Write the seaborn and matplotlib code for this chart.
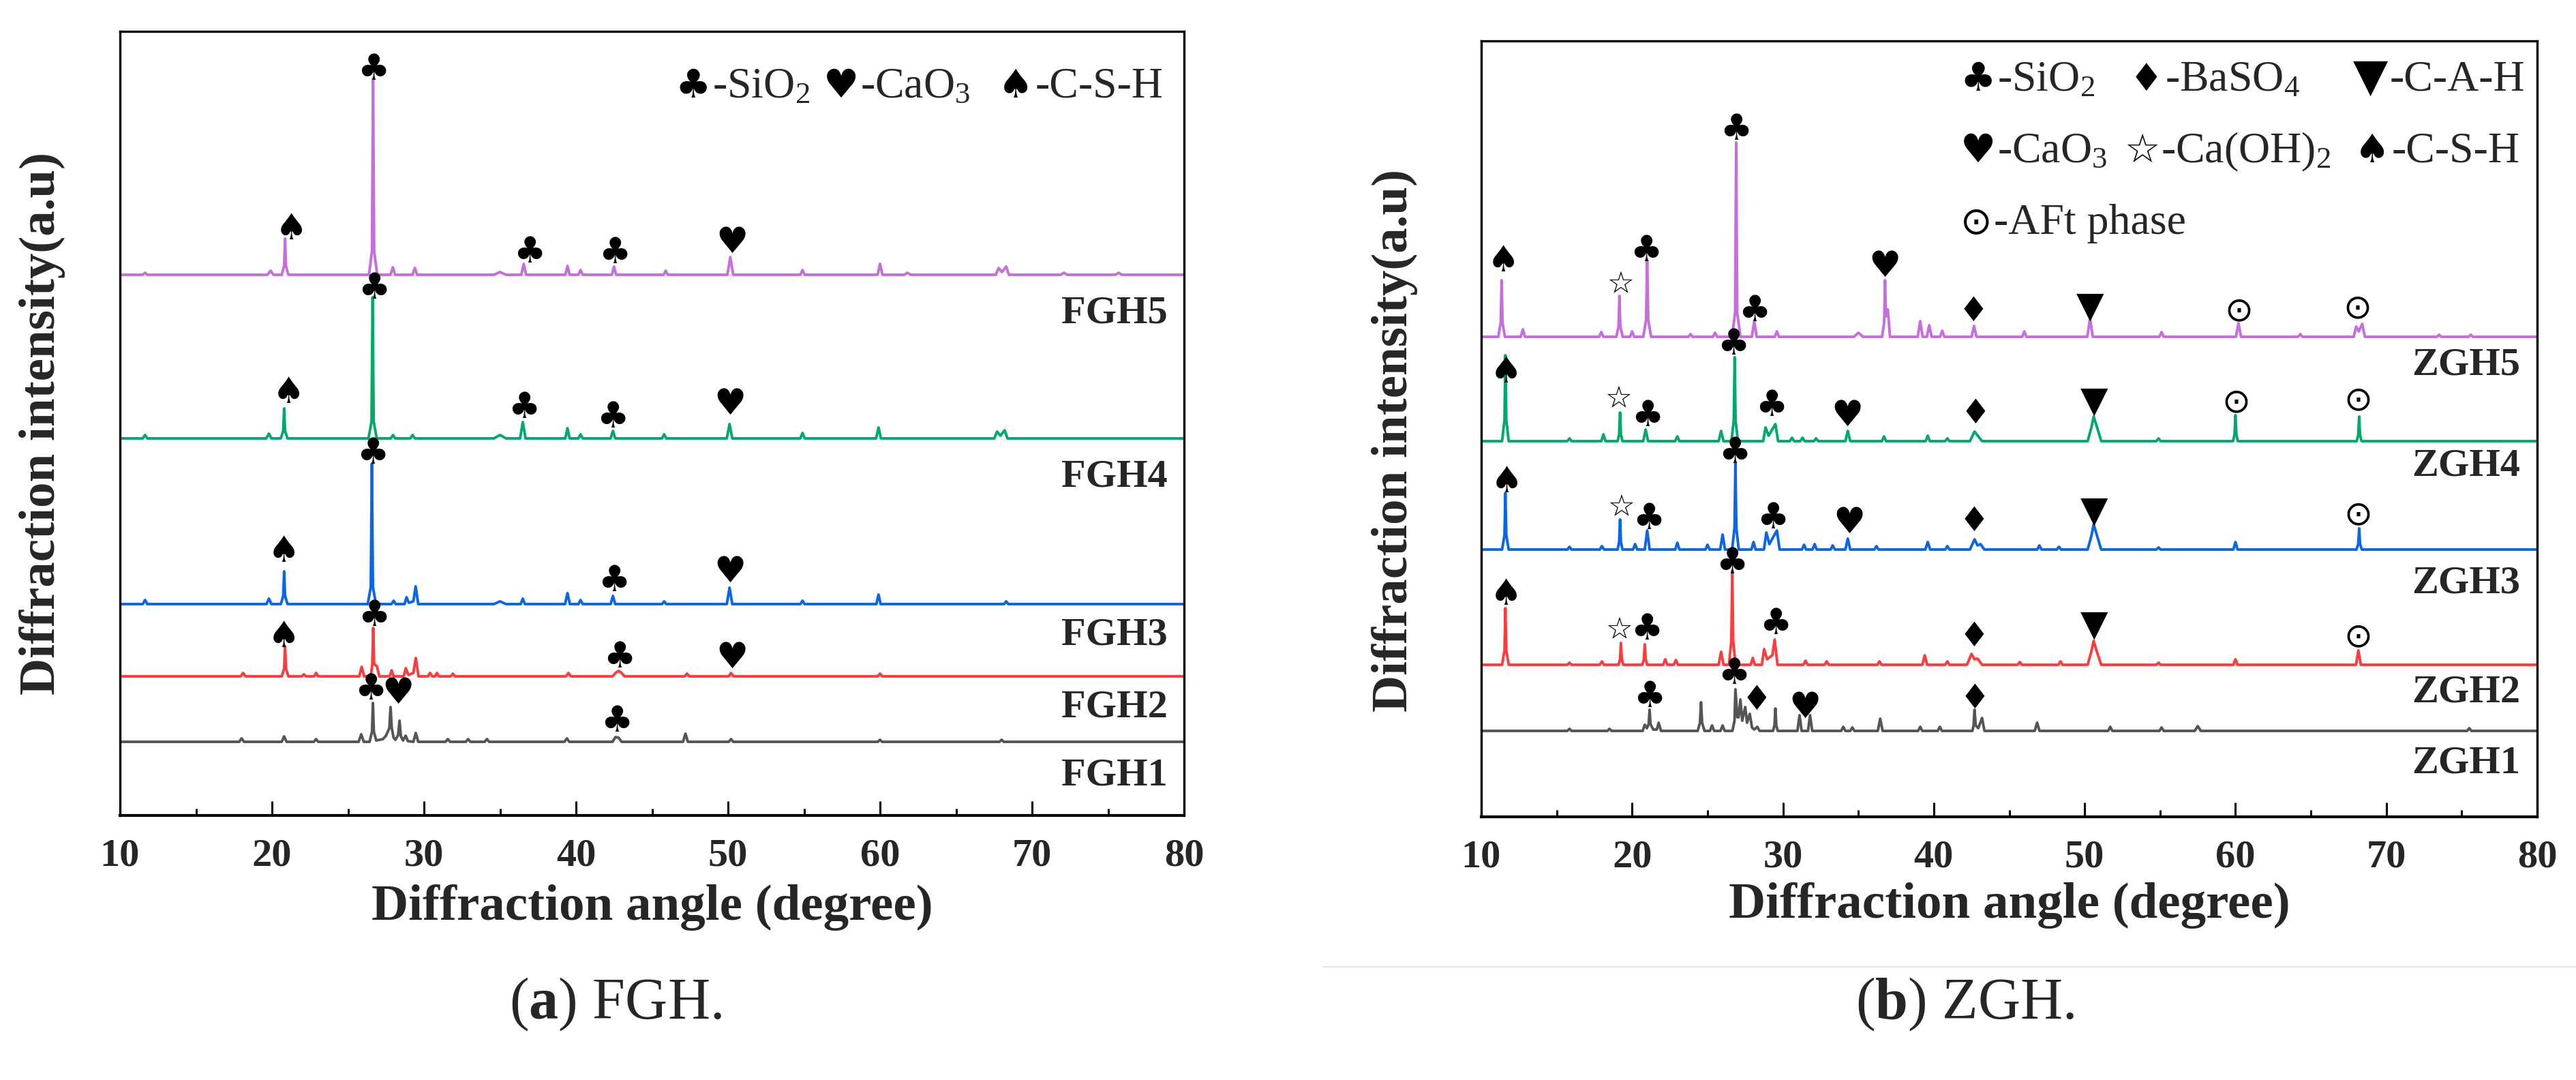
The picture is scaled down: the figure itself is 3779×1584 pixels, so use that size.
import matplotlib
matplotlib.use('Agg')
import matplotlib.pyplot as plt
from matplotlib.ticker import MultipleLocator
from matplotlib.lines import Line2D
import seaborn as sns
import pandas as pd

# ---------------- data (angle in degrees, intensity in a.u. above each pattern's baseline) ----------------
FGH_names = ['FGH1', 'FGH2', 'FGH3', 'FGH4', 'FGH5']
ZGH_names = ['ZGH1', 'ZGH2', 'ZGH3', 'ZGH4', 'ZGH5']

FGH5 = [(10, 0), (11.5, 0), (11.65, 3), (11.8, 0),
        (19.7, 0), (19.9, 6), (20.1, 0),
        (20.64, 0), (20.8, 13), (20.86, 53), (20.92, 13), (21.08, 0),
        (26.38, 0), (26.58, 35), (26.65, 288), (26.72, 35), (26.92, 0),
        (27.8, 0), (27.95, 11), (28.1, 0),
        (29.25, 0), (29.4, 10), (29.55, 0),
        (34.6, 0), (35.0, 4), (35.4, 0),
        (36.4, 0), (36.56, 16), (36.72, 0),
        (39.3, 0), (39.44, 13), (39.58, 0),
        (40.16, 0), (40.3, 7), (40.44, 0),
        (42.36, 0), (42.5, 12), (42.64, 0),
        (45.76, 0), (45.9, 6), (46.04, 0),
        (49.96, 0), (50.15, 26), (50.34, 0),
        (54.76, 0), (54.9, 7), (55.04, 0),
        (59.84, 0), (60.0, 16), (60.16, 0),
        (61.6, 0), (61.8, 3), (62.0, 0),
        (67.62, 0), (67.8, 10), (68.02, 4), (68.3, 12), (68.48, 0),
        (71.9, 0), (72.1, 3), (72.3, 0),
        (75.5, 0), (75.7, 3), (75.9, 0),
        (80, 0)]

FGH4 = [(10, 0), (11.5, 0), (11.65, 5), (11.8, 0),
        (19.62, 0), (19.8, 7), (19.96, 0),
        (20.58, 0), (20.74, 11), (20.8, 44), (20.86, 11), (21.02, 0),
        (26.35, 0), (26.55, 25), (26.62, 207), (26.69, 25), (26.89, 0),
        (27.82, 0), (27.96, 5), (28.1, 0),
        (29.1, 0), (29.25, 5), (29.4, 0),
        (34.6, 0), (35.0, 5), (35.4, 0),
        (36.32, 0), (36.5, 24), (36.68, 0),
        (39.3, 0), (39.44, 15), (39.58, 0),
        (40.16, 0), (40.3, 6), (40.44, 0),
        (42.28, 0), (42.43, 11), (42.58, 0),
        (45.66, 0), (45.8, 6), (45.94, 0),
        (49.92, 0), (50.1, 21), (50.28, 0),
        (54.76, 0), (54.9, 8), (55.04, 0),
        (59.74, 0), (59.9, 16), (60.06, 0),
        (67.52, 0), (67.7, 10), (67.92, 4), (68.2, 12), (68.38, 0),
        (80, 0)]

FGH3 = [(10, 0), (11.5, 0), (11.65, 6), (11.8, 0),
        (19.64, 0), (19.8, 8), (19.96, 0),
        (20.58, 0), (20.74, 12), (20.8, 48), (20.86, 12), (21.02, 0),
        (26.3, 0), (26.5, 25), (26.57, 206), (26.64, 25), (26.84, 0),
        (27.86, 0), (28.0, 5), (28.14, 0),
        (28.72, 0), (28.85, 10), (29.0, 2), (29.3, 4), (29.45, 26), (29.62, 0),
        (34.6, 0), (35.0, 4), (35.4, 0),
        (36.36, 0), (36.5, 8), (36.64, 0),
        (39.28, 0), (39.44, 16), (39.6, 0),
        (40.16, 0), (40.3, 6), (40.44, 0),
        (42.28, 0), (42.43, 12), (42.58, 0),
        (45.66, 0), (45.8, 4), (45.94, 0),
        (49.92, 0), (50.1, 24), (50.28, 0),
        (54.76, 0), (54.9, 5), (55.04, 0),
        (59.76, 0), (59.9, 14), (60.04, 0),
        (68.16, 0), (68.3, 4), (68.44, 0),
        (80, 0)]

FGH2 = [(10, 0), (17.94, 0), (18.1, 5), (18.26, 0),
        (20.64, 0), (20.8, 11), (20.86, 44), (20.92, 11), (21.08, 0),
        (21.96, 0), (22.1, 3), (22.24, 0),
        (22.76, 0), (22.9, 5), (23.04, 0),
        (25.74, 0), (25.9, 14), (26.06, 0),
        (26.5, 0), (26.6, 18), (26.66, 71), (26.72, 18), (26.9, 15), (27.06, 0),
        (27.74, 0), (27.87, 9), (28.0, 0),
        (28.66, 0), (28.8, 12), (28.98, 2), (29.3, 5), (29.46, 27), (29.64, 0),
        (30.26, 0), (30.4, 5), (30.54, 0),
        (30.72, 0), (30.85, 5), (30.98, 0),
        (31.76, 0), (31.9, 4), (32.04, 0),
        (39.34, 0), (39.5, 5), (39.66, 0),
        (42.4, 0), (42.65, 6), (42.8, 8), (42.95, 6), (43.2, 0),
        (47.14, 0), (47.3, 4), (47.46, 0),
        (50.04, 0), (50.2, 5), (50.36, 0),
        (59.84, 0), (60.0, 4), (60.16, 0),
        (80, 0)]

FGH1 = [(10, 0), (17.84, 0), (18.0, 5), (18.16, 0),
        (20.64, 0), (20.8, 8), (20.96, 0),
        (22.76, 0), (22.9, 4), (23.04, 0),
        (25.7, 0), (25.87, 11), (26.04, 0),
        (26.42, 0), (26.58, 15), (26.64, 57), (26.7, 15), (26.86, 2),
        (27.3, 4), (27.5, 9), (27.72, 20), (27.8, 51), (27.88, 20), (28.0, 6), (28.12, 3),
        (28.3, 10), (28.39, 31), (28.48, 8), (28.62, 2), (28.79, 9), (28.94, 1),
        (29.3, 0), (29.46, 13), (29.62, 0),
        (31.42, 0), (31.57, 4), (31.72, 0),
        (32.75, 0), (32.9, 4), (33.05, 0),
        (33.99, 0), (34.14, 4), (34.29, 0),
        (39.24, 0), (39.4, 5), (39.56, 0),
        (42.4, 0), (42.6, 7), (42.8, 6), (43.0, 0),
        (47.04, 0), (47.2, 12), (47.36, 0),
        (50.06, 0), (50.2, 4), (50.34, 0),
        (59.86, 0), (60.0, 3), (60.14, 0),
        (67.86, 0), (68.0, 3), (68.14, 0),
        (80, 0)]

ZGH5 = [(10, 0),
        (11.13, 0), (11.29, 21), (11.35, 83), (11.41, 21), (11.57, 0),
        (12.62, 0), (12.76, 11), (12.9, 0),
        (17.82, 0), (17.96, 7), (18.1, 0),
        (18.96, 0), (19.1, 15), (19.16, 60), (19.22, 15), (19.38, 0),
        (19.86, 0), (20.0, 8), (20.14, 0),
        (20.74, 0), (20.93, 25), (21.0, 113), (21.07, 25), (21.26, 0),
        (23.73, 0), (23.87, 4), (24.01, 0),
        (25.36, 0), (25.5, 6), (25.64, 0),
        (26.62, 0), (26.83, 35), (26.9, 285), (26.97, 35), (27.18, 0),
        (27.94, 0), (28.1, 23), (28.26, 0),
        (29.46, 0), (29.6, 8), (29.74, 0),
        (34.7, 0), (35.0, 6), (35.3, 0),
        (36.57, 0), (36.71, 21), (36.77, 83), (36.83, 30), (36.95, 40), (37.1, 0),
        (38.94, 0), (39.1, 23), (39.26, 0),
        (39.54, 0), (39.7, 17), (39.86, 0),
        (40.42, 0), (40.56, 9), (40.7, 0),
        (42.51, 0), (42.67, 16), (42.83, 0),
        (45.86, 0), (46.0, 8), (46.14, 0),
        (50.18, 0), (50.36, 27), (50.54, 0),
        (54.96, 0), (55.1, 7), (55.24, 0),
        (60.03, 0), (60.2, 20), (60.37, 0),
        (64.16, 0), (64.3, 4), (64.44, 0),
        (67.84, 0), (68.0, 15), (68.18, 8), (68.4, 19), (68.58, 0),
        (73.36, 0), (73.5, 3), (73.64, 0),
        (75.46, 0), (75.6, 3), (75.74, 0),
        (80, 0)]

ZGH4 = [(10, 0),
        (11.38, 0), (11.54, 31), (11.6, 126), (11.66, 31), (11.82, 0),
        (15.71, 0), (15.85, 4), (15.99, 0),
        (17.96, 0), (18.1, 10), (18.24, 0),
        (19.04, 0), (19.14, 10), (19.2, 42), (19.26, 10), (19.36, 0),
        (20.74, 0), (20.9, 17), (21.06, 0),
        (22.86, 0), (23.0, 7), (23.14, 0),
        (25.74, 0), (25.9, 15), (26.06, 0),
        (26.58, 0), (26.74, 30), (26.8, 123), (26.86, 30), (27.02, 0),
        (28.69, 0), (28.85, 20), (29.05, 8), (29.5, 25), (29.68, 0),
        (30.46, 0), (30.6, 5), (30.74, 0),
        (31.16, 0), (31.3, 5), (31.44, 0),
        (32.06, 0), (32.2, 4), (32.34, 0),
        (34.14, 0), (34.3, 15), (34.46, 0),
        (36.56, 0), (36.7, 7), (36.84, 0),
        (39.46, 0), (39.6, 8), (39.74, 0),
        (40.76, 0), (40.9, 4), (41.04, 0),
        (42.4, 0), (42.7, 14), (42.95, 7), (43.2, 0),
        (50.2, 0), (50.45, 20), (50.6, 36), (50.8, 22), (51.1, 0),
        (54.76, 0), (54.9, 4), (55.04, 0),
        (59.84, 0), (59.94, 10), (60.0, 38), (60.06, 10), (60.16, 0),
        (68.04, 0), (68.14, 9), (68.2, 36), (68.26, 9), (68.36, 0),
        (80, 0)]

ZGH3 = [(10, 0),
        (11.38, 0), (11.54, 21), (11.6, 83), (11.66, 21), (11.82, 0),
        (15.71, 0), (15.85, 4), (15.99, 0),
        (17.86, 0), (18.0, 5), (18.14, 0),
        (19.04, 0), (19.14, 11), (19.2, 44), (19.26, 11), (19.36, 0),
        (20.06, 0), (20.2, 8), (20.34, 0),
        (20.84, 0), (21.0, 28), (21.16, 0),
        (22.86, 0), (23.0, 10), (23.14, 0),
        (24.86, 0), (25.0, 7), (25.14, 0),
        (25.84, 0), (26.0, 22), (26.16, 0),
        (26.63, 0), (26.79, 32), (26.85, 128), (26.91, 32), (27.07, 0),
        (27.91, 0), (28.05, 11), (28.19, 0),
        (28.74, 0), (28.9, 25), (29.1, 8), (29.6, 28), (29.78, 0),
        (31.26, 0), (31.4, 7), (31.54, 0),
        (31.96, 0), (32.1, 8), (32.24, 0),
        (33.16, 0), (33.3, 6), (33.44, 0),
        (34.14, 0), (34.3, 16), (34.46, 0),
        (36.06, 0), (36.2, 5), (36.34, 0),
        (39.44, 0), (39.6, 11), (39.76, 0),
        (40.76, 0), (40.9, 5), (41.04, 0),
        (42.4, 0), (42.7, 15), (42.9, 6), (43.1, 8), (43.35, 0),
        (46.86, 0), (47.0, 6), (47.14, 0),
        (48.16, 0), (48.3, 4), (48.44, 0),
        (50.2, 0), (50.45, 20), (50.6, 37), (50.8, 22), (51.1, 0),
        (54.76, 0), (54.9, 3), (55.04, 0),
        (59.86, 0), (60.0, 11), (60.14, 0),
        (68.02, 0), (68.14, 8), (68.2, 31), (68.26, 8), (68.38, 0),
        (80, 0)]

ZGH2 = [(10, 0),
        (11.38, 0), (11.54, 21), (11.6, 83), (11.66, 21), (11.82, 0),
        (15.71, 0), (15.85, 3), (15.99, 0),
        (17.86, 0), (18.0, 5), (18.14, 0),
        (19.1, 0), (19.2, 8), (19.26, 32), (19.32, 8), (19.42, 0),
        (20.68, 0), (20.78, 8), (20.84, 30), (20.9, 8), (21.0, 0),
        (22.06, 0), (22.2, 8), (22.34, 0),
        (22.76, 0), (22.9, 7), (23.04, 0),
        (25.74, 0), (25.9, 19), (26.06, 0),
        (26.42, 0), (26.58, 35), (26.64, 138), (26.7, 35), (26.86, 0),
        (27.86, 0), (28.0, 10), (28.14, 0),
        (28.6, 0), (28.75, 23), (28.95, 8), (29.3, 14), (29.45, 37), (29.64, 0),
        (31.36, 0), (31.5, 6), (31.64, 0),
        (32.76, 0), (32.9, 5), (33.04, 0),
        (36.26, 0), (36.4, 5), (36.54, 0),
        (39.24, 0), (39.4, 14), (39.56, 0),
        (40.76, 0), (40.9, 5), (41.04, 0),
        (42.2, 0), (42.5, 16), (42.7, 8), (42.9, 9), (43.2, 0),
        (45.56, 0), (45.7, 4), (45.84, 0),
        (48.26, 0), (48.4, 5), (48.54, 0),
        (50.2, 0), (50.45, 20), (50.6, 35), (50.8, 20), (51.1, 0),
        (54.76, 0), (54.9, 3), (55.04, 0),
        (59.86, 0), (60.0, 8), (60.14, 0),
        (67.99, 0), (68.15, 21), (68.31, 0),
        (80, 0)]

ZGH1 = [(10, 0),
        (15.71, 0), (15.85, 3), (15.99, 0),
        (18.36, 0), (18.5, 3), (18.64, 0),
        (20.7, 0), (20.84, 9), (20.98, 4), (21.1, 10), (21.16, 31), (21.22, 10), (21.4, 2),
        (21.64, 2), (21.76, 12), (21.92, 0),
        (24.35, 0), (24.5, 12), (24.57, 42), (24.64, 12), (24.8, 0),
        (25.16, 0), (25.3, 8), (25.44, 0),
        (25.86, 0), (26.0, 8), (26.14, 0),
        (26.65, 0), (26.79, 15), (26.85, 61), (26.98, 20), (27.06, 20), (27.18, 46),
        (27.3, 15), (27.5, 35), (27.62, 12), (27.8, 25), (27.95, 5), (28.1, 2), (28.3, 6), (28.45, 0),
        (29.34, 0), (29.44, 8), (29.5, 33), (29.56, 8), (29.66, 0),
        (30.96, 0), (31.1, 23), (31.24, 0),
        (31.66, 0), (31.8, 23), (31.94, 0),
        (33.86, 0), (34.0, 6), (34.14, 0),
        (34.46, 0), (34.6, 5), (34.74, 0),
        (36.29, 0), (36.45, 18), (36.61, 0),
        (38.96, 0), (39.1, 6), (39.24, 0),
        (40.26, 0), (40.4, 6), (40.54, 0),
        (42.56, 0), (42.64, 8), (42.7, 31), (42.78, 8), (42.95, 4), (43.2, 19), (43.36, 0),
        (46.69, 0), (46.85, 12), (47.01, 0),
        (51.56, 0), (51.7, 6), (51.84, 0),
        (54.96, 0), (55.1, 5), (55.24, 0),
        (57.3, 0), (57.5, 7), (57.7, 0),
        (75.36, 0), (75.5, 4), (75.64, 0),
        (80, 0)]

# phase markers: (phase, angle, height of symbol centre above the pattern baseline)
FGH5_marks = [('CSH', 21.27, 67), ('SiO2', 26.68, 301), ('SiO2', 36.92, 33), ('SiO2', 42.53, 32), ('CaO3', 50.25, 47)]
FGH4_marks = [('CSH', 21.07, 67), ('SiO2', 26.73, 220), ('SiO2', 36.56, 45), ('SiO2', 42.43, 31), ('CaO3', 50.15, 50)]
FGH3_marks = [('CSH', 20.76, 77), ('SiO2', 26.62, 221), ('SiO2', 42.48, 34), ('CaO3', 50.15, 47)]
FGH2_marks = [('CSH', 20.76, 58), ('SiO2', 26.73, 89), ('SiO2', 42.84, 28), ('CaO3', 50.25, 27)]
FGH1_marks = [('SiO2', 26.5, 77), ('CaO3', 28.3, 71), ('SiO2', 42.68, 30)]

ZGH5_marks = [('CSH', 11.46, 111), ('CaOH2', 19.21, 76), ('SiO2', 20.94, 126), ('SiO2', 26.9, 304),
              ('SiO2', 28.1, 38), ('CaO3', 36.77, 103), ('BaSO4', 42.62, 37), ('CAH', 50.36, 45),
              ('AFt', 60.22, 38), ('AFt', 68.08, 42)]
ZGH4_marks = [('CSH', 11.63, 101), ('CaOH2', 19.1, 61), ('SiO2', 21.0, 37), ('SiO2', 26.69, 142),
              ('SiO2', 29.23, 52), ('CaO3', 34.27, 37), ('BaSO4', 42.78, 40), ('CAH', 50.64, 59),
              ('AFt', 60.06, 57), ('AFt', 68.14, 60)]
ZGH3_marks = [('CSH', 11.68, 99), ('CaOH2', 19.25, 61), ('SiO2', 21.1, 45), ('SiO2', 26.8, 142),
              ('SiO2', 29.34, 46), ('CaO3', 34.38, 39), ('BaSO4', 42.67, 41), ('CAH', 50.64, 57),
              ('AFt', 68.14, 51)]
ZGH2_marks = [('CSH', 11.63, 103), ('CaOH2', 19.12, 50), ('SiO2', 20.98, 52), ('SiO2', 26.63, 149),
              ('SiO2', 29.5, 60), ('BaSO4', 42.67, 41), ('CAH', 50.64, 59), ('AFt', 68.14, 41)]
ZGH1_marks = [('SiO2', 21.16, 50), ('SiO2', 26.75, 84), ('BaSO4', 28.25, 45), ('CaO3', 31.46, 34),
              ('BaSO4', 42.73, 47)]

SYMBOLS = {'SiO2': '\u2663', 'CaO3': '\u2665', 'CSH': '\u2660', 'BaSO4': '\u2666',
           'CAH': '\u25BC', 'CaOH2': '\u2606', 'AFt': '\u2299'}
PHASE_LABELS = {'SiO2': '-SiO$_2$', 'CaO3': '-CaO$_3$', 'CSH': '-C-S-H', 'BaSO4': '-BaSO$_4$',
                'CAH': '-C-A-H', 'CaOH2': '-Ca(OH)$_2$', 'AFt': '-AFt phase'}

# ---------------- layout / style ----------------
COLORS = ['#555555', '#FF3B3B', '#0A66E8', '#00AA6A', '#C66EDD']
FGH_offsets = [108, 204, 310, 553, 793]
ZGH_offsets = [126, 223, 392, 551, 704]
FGH_label_y = [58, 158, 264, 496, 737]
ZGH_label_y = [79, 182, 343, 515, 662]
MARK_SIZE = {'SiO2': 38, 'CaO3': 38, 'CSH': 38, 'BaSO4': 36, 'CAH': 38, 'CaOH2': 32, 'AFt': 36}
LEG_SIZE = {'SiO2': 42, 'CaO3': 42, 'CSH': 42, 'BaSO4': 40, 'CAH': 48, 'CaOH2': 42, 'AFt': 40}

sns.set_theme(style='white')
plt.rcParams['font.family'] = ['Liberation Serif', 'DejaVu Sans']
plt.rcParams['mathtext.fontset'] = 'custom'
plt.rcParams['mathtext.rm'] = 'Liberation Serif'
plt.rcParams['mathtext.it'] = 'Liberation Serif:italic'
plt.rcParams['mathtext.bf'] = 'Liberation Serif:bold'
plt.rcParams['mathtext.default'] = 'regular'

W, H = 3779, 1584
fig = plt.figure(figsize=(W / 100, H / 100), dpi=100)
fig.patch.set_facecolor('white')


def px_rect(x0, y0, x1, y1):
    return [x0 / W, 1 - y1 / H, (x1 - x0) / W, (y1 - y0) / H]


ax1 = fig.add_axes(px_rect(176, 46, 1737, 1196))
ax2 = fig.add_axes(px_rect(2173, 60, 3722, 1198))


def build(names, curves, offsets):
    rows = []
    for name, pts, off in zip(names, curves, offsets):
        for a, i in pts:
            rows.append((name, a, i + off))
    return pd.DataFrame(rows, columns=['sample', 'angle', 'intensity'])


def draw_panel(ax, names, curves, offsets, marks, label_y, ylim, legend_rows, ylabel_xy, xlabel_y):
    df = build(names, curves, offsets)
    sns.lineplot(data=df, x='angle', y='intensity', hue='sample',
                 palette=dict(zip(names, COLORS)), estimator=None, sort=False,
                 legend=False, ax=ax, linewidth=2.8)
    for mk, off in zip(marks, offsets):
        for ph, a, h in mk:
            ax.text(a, off + h, SYMBOLS[ph], ha='center', va='center', fontsize=MARK_SIZE[ph],
                    family='DejaVu Sans', color='black')
    for name, y in zip(names, label_y):
        ax.text(78.9, y, name, ha='right', va='center', fontsize=42, fontweight='bold')
    for row in legend_rows:
        for ph, xs, yb in row:
            sym = ax.text(xs, yb, SYMBOLS[ph], transform=ax.transAxes, ha='left', va='baseline',
                          fontsize=LEG_SIZE[ph], family='DejaVu Sans', color='black')
            ax.annotate(PHASE_LABELS[ph], xy=(1.0, yb), xycoords=(sym, ax.transAxes),
                        xytext=(1.5, 0), textcoords='offset points',
                        ha='left', va='baseline', fontsize=46)
    ax.set_xlim(10, 80)
    ax.set_ylim(*ylim)
    ax.set_xticks(range(10, 81, 10))
    ax.xaxis.set_minor_locator(MultipleLocator(5))
    ax.set_yticks([])
    ax.tick_params(axis='x', which='major', direction='in', length=15, width=2.2,
                   labelsize=42, pad=24, bottom=True, top=False, color='black')
    ax.tick_params(axis='x', which='minor', direction='in', length=7.5, width=2.2,
                   bottom=True, top=False, color='black')
    for lab in ax.get_xticklabels():
        lab.set_fontweight('bold')
    for side, sp in ax.spines.items():
        sp.set_visible(True)
        sp.set_color('black')
        sp.set_linewidth(2.4)
    ax.spines['bottom'].set_linewidth(3.0)
    ax.set_xlabel('Diffraction angle (degree)', fontsize=54, fontweight='bold', va='center')
    ax.xaxis.set_label_coords(0.5, xlabel_y)
    ax.set_ylabel('Diffraction intensity(a.u)', fontsize=54, fontweight='bold', va='center')
    ax.yaxis.set_label_coords(*ylabel_xy)
    ax.set_facecolor('white')


legend_left = [[('SiO2', 0.5215, 0.9157), ('CaO3', 0.661, 0.9157), ('CSH', 0.825, 0.9157)]]
legend_right = [[('SiO2', 0.4538, 0.9359), ('BaSO4', 0.6139, 0.9359), ('CAH', 0.8257, 0.9359)],
                [('CaO3', 0.4538, 0.8436), ('CaOH2', 0.6088, 0.8436), ('CSH', 0.827, 0.8436)],
                [('AFt', 0.4538, 0.7513)]]

draw_panel(ax1, FGH_names, [FGH1, FGH2, FGH3, FGH4, FGH5], FGH_offsets,
           [FGH1_marks, FGH2_marks, FGH3_marks, FGH4_marks, FGH5_marks],
           FGH_label_y, (0, 1150), legend_left, (-0.073, 0.5), -0.117)
draw_panel(ax2, ZGH_names, [ZGH1, ZGH2, ZGH3, ZGH4, ZGH5], ZGH_offsets,
           [ZGH1_marks, ZGH2_marks, ZGH3_marks, ZGH4_marks, ZGH5_marks],
           ZGH_label_y, (0, 1138), legend_right, (-0.082, 0.485), -0.114)

fig.text(903 / W, 1 - 1473 / H, '($\\mathbf{a}$) FGH.', ha='center', va='center', fontsize=62)
fig.text(2883 / W, 1 - 1473 / H, '($\\mathbf{b}$) ZGH.', ha='center', va='center', fontsize=62)
fig.add_artist(Line2D([1942 / W, 1.0], [1 - 1418 / H] * 2, color='#e6e6e6', linewidth=1.5))

fig.savefig('out.png', dpi=100, facecolor='white')
